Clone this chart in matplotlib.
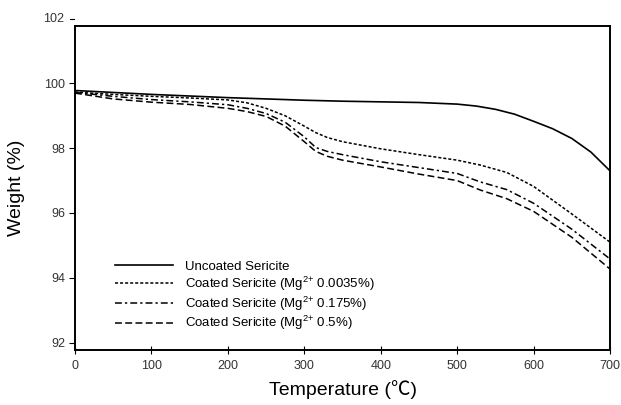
import matplotlib
matplotlib.use('Agg')
import matplotlib.pyplot as plt

plt.rcParams['font.family'] = ['Liberation Sans', 'DejaVu Sans']
plt.rcParams['mathtext.fontset'] = 'custom'
plt.rcParams['mathtext.rm'] = 'Liberation Sans'
plt.rcParams['mathtext.default'] = 'regular'

# uncoated sericite
t_uncoated = [0, 50, 100, 150, 200, 250, 300, 350, 400, 450, 500, 525, 550, 575, 600, 625, 650,
              675, 700]
w_uncoated = [99.78, 99.72, 99.66, 99.61, 99.56, 99.52, 99.48, 99.45, 99.43, 99.41, 99.36, 99.3,
              99.2, 99.05, 98.83, 98.6, 98.3, 97.88, 97.3]

# coated samples share the same temperature points
t_coated = [0, 50, 100, 150, 200, 225, 250, 275, 300, 315, 330, 350, 400, 450, 500, 530, 565,
            600, 650, 700]
w_0035 = [99.73, 99.66, 99.6, 99.55, 99.49, 99.4, 99.23, 99.0, 98.68, 98.48, 98.33, 98.2,
          97.98, 97.8, 97.63, 97.48, 97.25, 96.82, 95.97, 95.1]
w_0175 = [99.72, 99.6, 99.5, 99.43, 99.34, 99.23, 99.07, 98.8, 98.35, 98.02, 97.9, 97.8,
          97.58, 97.4, 97.22, 96.96, 96.72, 96.3, 95.5, 94.58]
w_05 = [99.7, 99.52, 99.42, 99.35, 99.23, 99.13, 98.98, 98.68, 98.2, 97.9, 97.75, 97.63,
        97.42, 97.2, 97.0, 96.71, 96.44, 96.05, 95.25, 94.27]

labels = ['Uncoated Sericite',
          'Coated Sericite (Mg$^{2{+}}$ 0.0035%)',
          'Coated Sericite (Mg$^{2{+}}$ 0.175%)',
          'Coated Sericite (Mg$^{2{+}}$ 0.5%)']

fig = plt.figure(figsize=(6.21, 4.05), dpi=100)
ax = fig.add_axes([0.1208, 0.1358, 0.8615, 0.8007])

ax.plot(t_uncoated, w_uncoated, color='black', linewidth=1.2, linestyle='-', label=labels[0])
ax.plot(t_coated, w_0035, color='black', linewidth=1.1, linestyle=(0, (2, 1.3)), label=labels[1])
ax.plot(t_coated, w_0175, color='black', linewidth=1.1, linestyle=(0, (4.5, 2, 1.5, 2)), label=labels[2])
ax.plot(t_coated, w_05, color='black', linewidth=1.1, linestyle=(0, (4.5, 2.2)), label=labels[3])

ax.set_xlim(0, 700)
ax.set_ylim(91.77, 101.78)
ax.set_xticks(range(0, 701, 100))
ax.set_yticks([92, 94, 96, 98, 100])

for s in ax.spines.values():
    s.set_linewidth(1.4)

ax.tick_params(axis='x', direction='inout', length=6, width=0.8, labelsize=9,
               labelcolor='#333333', pad=4)
ax.tick_params(axis='y', direction='out', length=4, width=0.8, labelsize=9,
               labelcolor='#333333', pad=3)

# the 102 tick sits above the frame
ax.annotate('102', xy=(0, 102), xycoords=('axes fraction', 'data'),
            xytext=(-8, 0), textcoords='offset points', ha='right', va='center',
            fontsize=9, color='#333333', annotation_clip=False)
ax.plot([-0.0085, -0.001], [102, 102], color='black', linewidth=0.8, clip_on=False,
        transform=ax.get_yaxis_transform())

ax.set_xlabel('Temperature (℃)', fontsize=14, family=['Liberation Sans', 'Noto Sans CJK KR'],
              labelpad=6)
ax.set_ylabel('Weight (%)', fontsize=14, labelpad=14)

ax.legend(loc='upper left', bbox_to_anchor=(0.075, 0.275), frameon=False, fontsize=9.5,
          handlelength=4.4, handletextpad=0.9, labelspacing=0.12, borderpad=0, borderaxespad=0)

plt.savefig('out.png', dpi=100)
